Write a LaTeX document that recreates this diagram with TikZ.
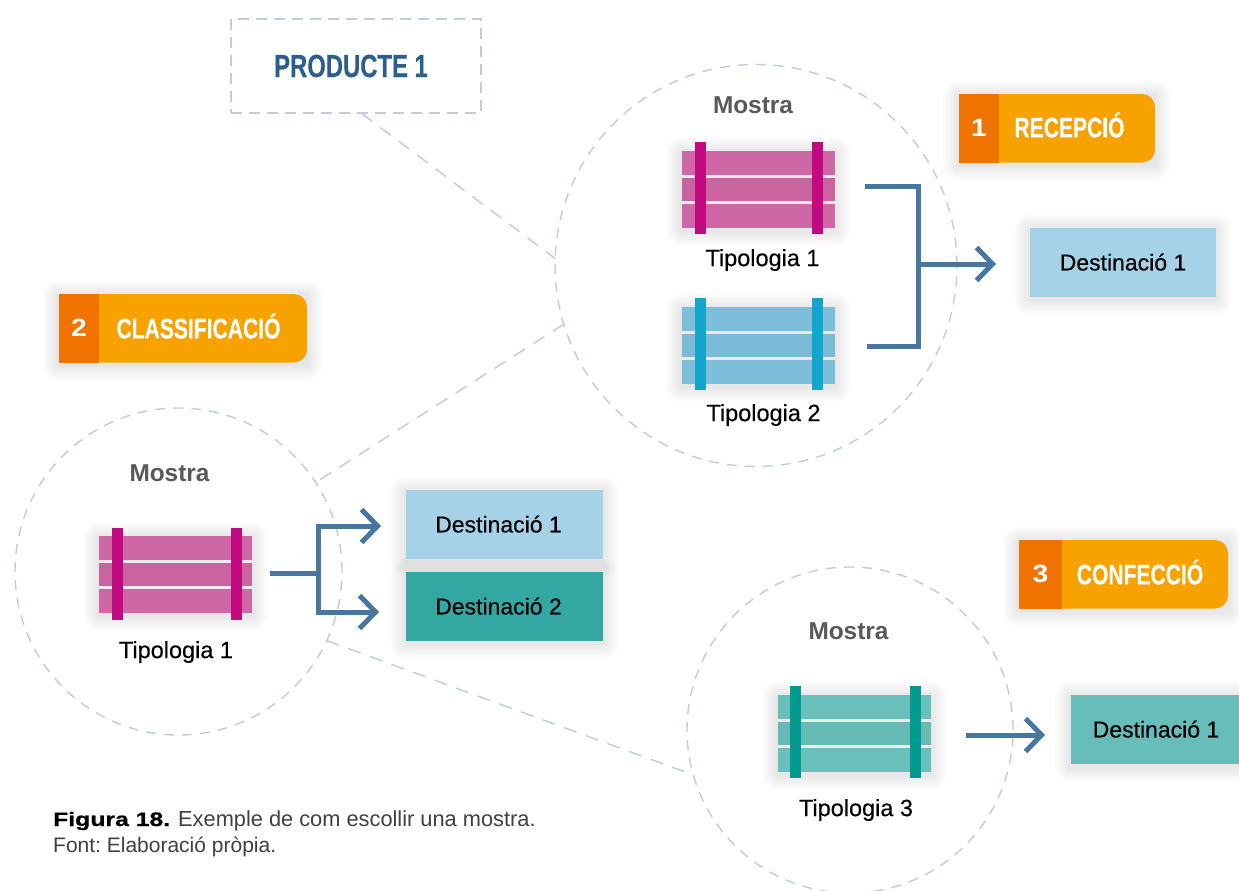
\documentclass[tikz,border=0pt]{standalone}
\usepackage{fontspec}
\setmainfont{Liberation Sans}
\frenchspacing
\newfontfamily\condfont[FakeStretch=0.745,FakeBold=0.3]{Liberation Sans}
\newfontfamily\medfont[FakeBold=0.35]{Liberation Sans}
\newfontfamily\widefont[FakeStretch=1.13]{Liberation Sans}
\newfontfamily\capfont[FakeStretch=1.27,FakeBold=0.8]{Liberation Sans}
\usetikzlibrary{arrows.meta,calc}
\definecolor{ringc}{HTML}{C2CADF}
\definecolor{flowc}{HTML}{4776A0}
\definecolor{orA}{HTML}{F07300}
\definecolor{orB}{HTML}{F8A200}
\definecolor{prodc}{HTML}{2A5F8F}
\definecolor{magA}{HTML}{CD67A5}\definecolor{magB}{HTML}{C9649F}\definecolor{magC}{HTML}{C20A80}
\definecolor{bluA}{HTML}{7DBFDB}\definecolor{bluB}{HTML}{7ABBD7}\definecolor{bluC}{HTML}{14A5CD}
\definecolor{teaA}{HTML}{68BFBB}\definecolor{teaB}{HTML}{65BAB6}\definecolor{teaC}{HTML}{009B8E}
\definecolor{dstA}{HTML}{A5D2E6}\definecolor{dstB}{HTML}{33A8A3}\definecolor{dstC}{HTML}{66BDB9}
\definecolor{slatc}{HTML}{EFE9EC}
\tikzset{
  ring/.style={circle,draw=ringc,line width=1.4pt,dash pattern=on 10pt off 8pt,inner sep=0pt,outer sep=0pt},
  tie/.style={draw=ringc,line width=1.4pt,dash pattern=on 13pt off 10pt},
  flow/.style={draw=flowc,line width=5pt},
  flowarrow/.style={flow,-{Straight Barb[length=16pt,width=33pt]}},
  destbox/.style={rectangle,inner sep=0pt,outer sep=0pt,text=black,font=\medfont\fontsize{23}{26}\selectfont},
  cratebody/.style={rectangle,inner sep=0pt,outer sep=0pt,minimum width=153pt,minimum height=77pt},
  lab/.style={inner sep=0pt,text=black,font=\medfont\fontsize{23.5}{26}\selectfont},
  samplelab/.style={inner sep=0pt,text=black!65,font=\bfseries\fontsize{24.4}{27}\selectfont},
  badgebody/.style={rectangle,rounded corners=13pt,fill=orB,inner sep=0pt,outer sep=0pt,minimum height=68.5pt},
  badgenum/.style={rectangle,fill=orA,inner sep=0pt,outer sep=0pt,minimum height=68.5pt,text=white,font=\widefont\bfseries\fontsize{25}{28}\selectfont},
  badgetext/.style={inner sep=0pt,text=white,font=\condfont\bfseries\fontsize{28.3}{32}\selectfont},
}
% soft shadow around a rectangle given by corners
\newcommand{\softshade}[4]{%
  \foreach \k in {1,...,8}{%
    \fill[black,opacity=0.01,rounded corners=\k*2pt]
      ({#1-\k*2},{#2-\k*2+2}) rectangle ({#3+\k*2},{#4+\k*2+2});
  }}
% crate: name, centre x, top y of body, three colours
\newcommand{\cratedraw}[6]{%
  \softshade{#2-76.5}{#3}{#2+76.5}{#3+77}
  \node[cratebody,fill=#4] (#1) at (#2,#3+38.5) {};
  \fill[#5] (#2-76.5,#3+26) rectangle (#2+76.5,#3+52);
  \draw[line width=3pt,slatc] (#2-76.5,#3+25.7) -- (#2+76.5,#3+25.7);
  \draw[line width=3pt,slatc] (#2-76.5,#3+51.7) -- (#2+76.5,#3+51.7);
}
\newcommand{\cratebars}[4]{% top y, left bar x, right bar x, colour
  \fill[#4] (#2,#1-9) rectangle (#2+11,#1+83);
  \fill[#4] (#3,#1-9) rectangle (#3+11,#1+83);
}
\begin{document}
\begin{tikzpicture}[x=1pt,y=-1pt]
\clip (0,0) rectangle (1239,891);
\fill[white] (0,0) rectangle (1239,891);

% rings
\node[ring,minimum size=402pt] (ringtop) at (756,265.5) {};
\node[ring,minimum size=327pt] (ringleft) at (178.5,571.5) {};
\node[ring,minimum size=326pt] (ringbot) at (850,730) {};

% product box
\node[rectangle,draw=ringc,line width=1.4pt,dash pattern=on 11pt off 7pt,minimum width=250pt,minimum height=94pt,inner sep=0pt,
  text=prodc,font=\condfont\bfseries\fontsize{32}{35}\selectfont] (prod) at (356,66) {\raisebox{-2pt}{\hspace{-10pt}PRODUCTE 1}};

% dashed ties
\draw[tie] ([xshift=6pt]prod.south) -- (ringtop.178);
\draw[tie] (ringtop.197) -- (ringleft.33.6);
\draw[tie] (ringleft.-25.7) -- (ringbot.196);

% badges
\softshade{959}{94}{1155}{162.5}
\node[badgebody,minimum width=196pt] (b1) at (1057,128.25) {};
\node[badgenum,minimum width=40pt] (n1) at (979,128.25) {1};
\node[badgetext] (t1) at (1069.5,125) {RECEPCIÓ};

\softshade{59}{294}{307}{362.5}
\node[badgebody,minimum width=248pt] (b2) at (183,328.25) {};
\node[badgenum,minimum width=40pt] (n2) at (79,328.25) {2};
\node[badgetext] (t2) at (198.5,326) {CLASSIFICACIÓ};

\softshade{1019}{540}{1228}{608.5}
\node[badgebody,minimum width=209pt] (b3) at (1123.5,574.25) {};
\node[badgenum,minimum width=43pt] (n3) at (1040.5,574.25) {3};
\node[badgetext] (t3) at (1140,572) {CONFECCIÓ};

% crates
\cratedraw{cA}{758.5}{151}{magA}{magB}{magC}
\cratebars{151}{695}{812}{magC}
\cratedraw{cB}{758.5}{307}{bluA}{bluB}{bluC}
\cratebars{307}{695}{812}{bluC}
\cratedraw{cC}{175.5}{536}{magA}{magB}{magC}
\cratebars{537}{112}{231}{magC}
\cratedraw{cD}{854.5}{695}{teaA}{teaB}{teaC}
\cratebars{695}{790}{910}{teaC}

% labels
\node[samplelab] (m1) at (753,105) {Mostra};
\node[samplelab] (m2) at (169.5,473) {Mostra};
\node[samplelab] (m3) at (848.5,631) {Mostra};
\node[lab] (l1) at (762.5,260) {Tipologia 1};
\node[lab] (l2) at (763.5,415) {Tipologia 2};
\node[lab] (l3) at (176,652) {Tipologia 1};
\node[lab] (l4) at (856,810) {Tipologia 3};

% destinations
\softshade{1030}{228}{1216}{297}
\node[destbox,fill=dstA,minimum width=186pt,minimum height=69pt] (d1) at (1123,262.5) {\raisebox{1pt}{Destinació 1}};
\softshade{406}{490}{603}{559}
\softshade{406}{572}{603}{641}
\node[destbox,fill=dstA,minimum width=197pt,minimum height=69pt] (d2) at (504.5,524.5) {\raisebox{1pt}{\hspace{-12pt}Destinació 1}};
\node[destbox,fill=dstB,minimum width=197pt,minimum height=69pt] (d3) at (504.5,606.5) {\raisebox{1pt}{\hspace{-12pt}Destinació 2}};
\softshade{1071}{695}{1241}{764}
\node[destbox,fill=dstC,minimum width=170pt,minimum height=69pt] (d4) at (1156,729.5) {\raisebox{1pt}{Destinació 1}};

% connectors
\coordinate (sA) at (865,186);
\coordinate (sB) at (867,346.5);
\coordinate (jA) at (918,264);
\coordinate (tA) at (996,264);
\draw[flow,miter limit=10] (sA) -| (jA |- sB) -- (sB);
\draw[flowarrow] (jA) -- (tA);

\coordinate (sC) at (270,573);
\coordinate (jC) at (318.5,573);
\coordinate (tC1) at (381,526);
\coordinate (tC2) at (379,612);
\draw[flow] (sC) -- (jC);
\draw[flowarrow] (jC) |- (tC1);
\draw[flowarrow] (jC) |- (tC2);

\coordinate (sD) at (966,735);
\coordinate (tD) at (1045,735);
\draw[flowarrow] (sD) -- (tD);

% caption
\node[anchor=base west,inner sep=0pt,text=black,font=\capfont\bfseries\fontsize{19.5}{23}\selectfont] (capA) at (53,826) {Figura 18.};
\node[anchor=base west,inner sep=0pt,text=black!75,font=\fontsize{21.8}{25}\selectfont] (capB) at (178,826) {Exemple de com escollir una mostra.};
\node[anchor=base west,inner sep=0pt,text=black!75,font=\fontsize{21}{25}\selectfont] (capC) at (53,852) {Font: Elaboració pròpia.};
\end{tikzpicture}
\end{document}
